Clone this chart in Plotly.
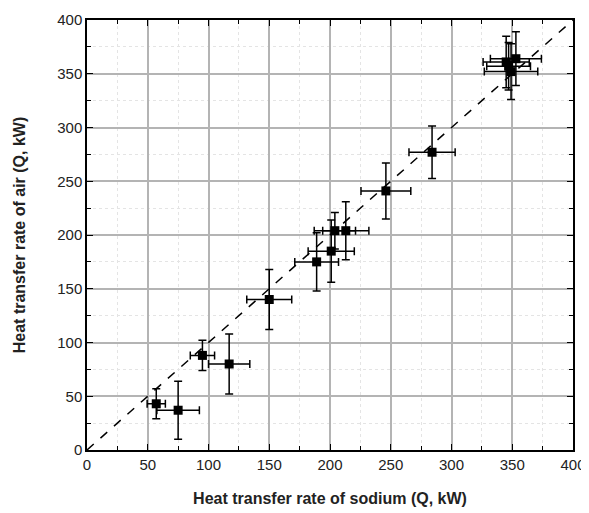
import plotly.graph_objects as go

# Data
q_sodium = [57, 75, 95, 117, 150, 189, 201, 204, 213, 246, 284, 345, 353, 349, 347]
q_air = [43, 37, 88, 80, 140, 175, 185, 204, 204, 241, 277, 361, 364, 352, 357]
err_sodium = [7.5, 17.5, 10, 17, 18.5, 18, 19, 17, 19, 20.5, 19, 19, 21, 22, 18]
err_air = [14, 27, 14, 28, 28, 27, 29, 17, 27, 26, 24.5, 24, 25, 26, 22]

x_ticks = [0, 50, 100, 150, 200, 250, 300, 350, 400]
y_ticks = [0, 50, 100, 150, 200, 250, 300, 350, 400]
diag = [0, 400]

FONT = "Liberation Sans, Arial, sans-serif"

fig = go.Figure()
fig.add_trace(go.Scatter(
    x=diag, y=diag, mode="lines",
    line=dict(color="black", width=1.5, dash="dash"),
    showlegend=False, hoverinfo="skip"))
fig.add_trace(go.Scatter(
    x=q_sodium, y=q_air, mode="markers",
    marker=dict(symbol="square", size=9, color="black"),
    error_x=dict(type="data", array=err_sodium, color="black", thickness=1.5, width=4),
    error_y=dict(type="data", array=err_air, color="black", thickness=1.5, width=4),
    showlegend=False))

axis_common = dict(
    range=[0, 400], showline=True, linecolor="black", linewidth=1.5, mirror="ticks",
    ticks="inside", ticklen=6, tickcolor="black", tickwidth=1.2,
    showgrid=True, gridcolor="#b4b4b4", gridwidth=1.5, zeroline=False,
    tickfont=dict(family=FONT, size=15, color="#222"),
    minor=dict(dtick=25, ticks="inside", ticklen=4, tickcolor="black", tickwidth=1,
               showgrid=True, gridcolor="#e4e4e4", griddash="dot", gridwidth=1),
    automargin=False,
)

fig.update_xaxes(**axis_common, tickvals=x_ticks,
                 title=dict(text="<b>Heat transfer rate of sodium (Q, kW)</b>",
                            font=dict(family=FONT, size=16, color="#222"),
                            standoff=21))
fig.update_yaxes(**axis_common, tickvals=y_ticks,
                 title=dict(text="<b>Heat transfer rate of air (Q, kW)</b>",
                            font=dict(family=FONT, size=16, color="#222"),
                            standoff=28))

fig.update_layout(
    width=581, height=505,
    margin=dict(l=79, r=16, t=12, b=63),
    paper_bgcolor="white", plot_bgcolor="white",
)

fig.write_html("out.html")
